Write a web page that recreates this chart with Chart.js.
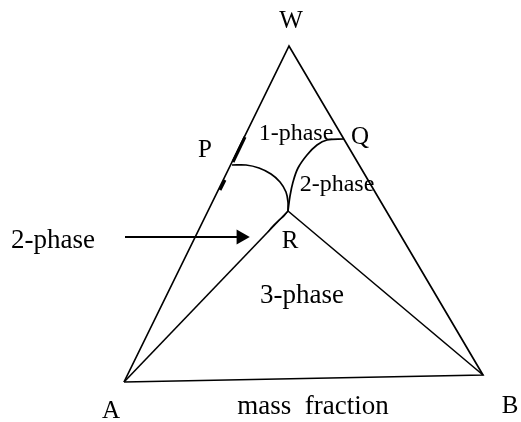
<!DOCTYPE html>
<html>
<head>
<meta charset="utf-8">
<script src="https://cdn.jsdelivr.net/npm/chart.js@4/dist/chart.umd.min.js"></script>
<style>
  html, body { margin: 0; padding: 0; background: #fff; }
  canvas { display: block; }
</style>
</head>
<body>
<canvas id="ternary" width="521" height="422"></canvas>
<script>
// diagram geometry, in picture units (x to the right, y downwards)
const vertexW = { x: 289, y: 46 };
const vertexA = { x: 124, y: 382 };
const vertexB = { x: 483, y: 375 };
const pointR = { x: 288, y: 211 };

const outline = [vertexA, vertexW, vertexB, vertexA];
const tieLineRA = [pointR, vertexA];
const tieLineRB = [pointR, vertexB];

const curveP = [
  { x: 232, y: 165 }, { x: 246, y: 165 }, { x: 259, y: 168 }, { x: 271, y: 174 },
  { x: 280, y: 182 }, { x: 286, y: 192 }, { x: 288, y: 202 }, pointR
];
const curveQ = [
  { x: 344, y: 139 }, { x: 327, y: 140 }, { x: 317, y: 145 }, { x: 307, y: 155 },
  { x: 298, y: 168 }, { x: 293, y: 182 }, { x: 290, y: 196 }, pointR
];
const sliverR = [
  pointR, { x: 284, y: 216 }, { x: 278, y: 221 }, { x: 272, y: 227 }, { x: 268, y: 232 }
];
const thickP1 = [{ x: 245, y: 137 }, { x: 233, y: 162 }];
const thickP2 = [{ x: 225, y: 180 }, { x: 220, y: 190 }];
const arrowLine = [{ x: 125, y: 237 }, { x: 241, y: 237 }];

const labelTexts = ['W', 'P', 'Q', '1-phase', '2-phase', 'R', '3-phase', '2-phase', 'A', 'B', 'mass  fraction'];
const labelPos = [
  [291, 21], [205, 150], [360, 137], [296, 134], [337, 185], [290, 241],
  [302, 296], [53, 241], [111, 411], [510, 406], [313, 407]
];
const labelSize = [25, 25, 25, 24, 24, 25, 27, 27, 25, 25, 27];

function line(data, width) {
  return {
    data: data,
    showLine: true,
    borderColor: '#000',
    borderWidth: width,
    pointRadius: 0,
    tension: 0
  };
}

const arrow = Object.assign(line(arrowLine, 1.8), {
  pointRadius: [0, 7],
  pointStyle: 'triangle',
  rotation: 90,
  pointBackgroundColor: '#000',
  pointBorderColor: '#000'
});

const textPlugin = {
  id: 'labels',
  afterDatasetsDraw(chart) {
    const ctx = chart.ctx;
    const xs = chart.scales.x, ys = chart.scales.y;
    ctx.save();
    ctx.fillStyle = '#000';
    ctx.textAlign = 'center';
    ctx.textBaseline = 'middle';
    labelTexts.forEach((t, i) => {
      ctx.font = labelSize[i] + 'px "Liberation Serif", "Times New Roman", serif';
      ctx.fillText(t, xs.getPixelForValue(labelPos[i][0]), ys.getPixelForValue(labelPos[i][1]));
    });
    ctx.restore();
  }
};

new Chart(document.getElementById('ternary').getContext('2d'), {
  type: 'scatter',
  data: {
    datasets: [
      line(outline, 1.7),
      line(tieLineRA, 1.6),
      line(tieLineRB, 1.6),
      Object.assign(line(curveP, 1.7), { tension: 0.35 }),
      Object.assign(line(curveQ, 1.7), { tension: 0.35 }),
      Object.assign(line(sliverR, 1.2), { tension: 0.3 }),
      line(thickP1, 3),
      line(thickP2, 3),
      arrow
    ]
  },
  options: {
    responsive: false,
    animation: false,
    devicePixelRatio: 1,
    layout: { padding: 0, autoPadding: false },
    plugins: { legend: { display: false }, tooltip: { enabled: false } },
    scales: {
      x: { type: 'linear', min: 0, max: 521, display: false },
      y: { type: 'linear', min: 0, max: 422, reverse: true, display: false }
    }
  },
  plugins: [textPlugin]
});
</script>
</body>
</html>
